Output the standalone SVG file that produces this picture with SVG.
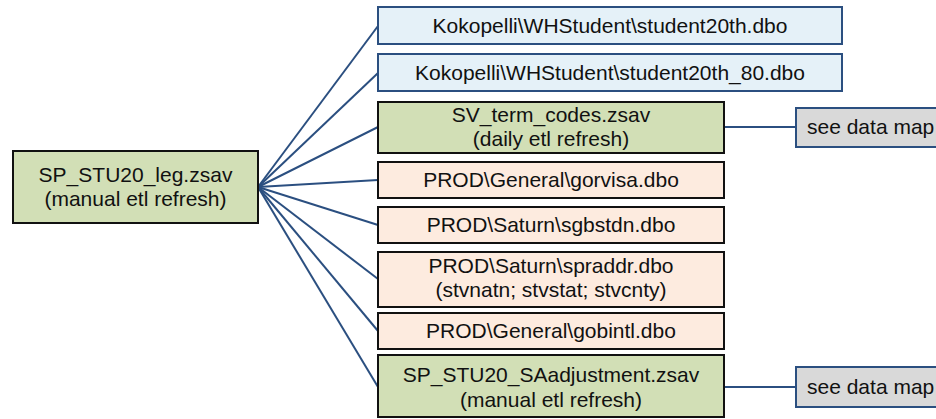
<svg xmlns="http://www.w3.org/2000/svg" width="936" height="419" viewBox="0 0 936 419">
<style>
text{font-family:"Liberation Sans",Arial,sans-serif;font-size:21px;fill:#111;text-anchor:middle}
.blue{fill:#e5f1f8;stroke:#2b4f80;stroke-width:2}
.green{fill:#d2dfb6;stroke:#111;stroke-width:2}
.peach{fill:#fdebdf;stroke:#111;stroke-width:2}
.gray{fill:#d9d9d9;stroke:#2b4f80;stroke-width:2}
.conn line{stroke:#2b4f80;stroke-width:2;fill:none}
</style>
<rect width="936" height="419" fill="#fff"/>
<g class="conn" id="connectors">
<line x1="258" y1="187" x2="378" y2="26"/>
<line x1="258" y1="187" x2="378" y2="73"/>
<line x1="258" y1="187" x2="378" y2="127"/>
<line x1="258" y1="187" x2="378" y2="180"/>
<line x1="258" y1="187" x2="378" y2="225"/>
<line x1="258" y1="187" x2="378" y2="279"/>
<line x1="258" y1="187" x2="378" y2="331"/>
<line x1="258" y1="187" x2="378" y2="387"/>
<line x1="724" y1="127" x2="796" y2="127"/>
<line x1="724" y1="387" x2="796" y2="387"/>
</g>
<g id="n-leg">
<rect class="green" x="13" y="151" width="245" height="72"/>
<text x="135.5" y="182">SP_STU20_leg.zsav</text>
<text x="135.5" y="206">(manual etl refresh)</text>
</g>
<g id="n-student20th">
<rect class="blue" x="378" y="7" width="464" height="37"/>
<text x="610" y="33">Kokopelli\WHStudent\student20th.dbo</text>
</g>
<g id="n-student20th80">
<rect class="blue" x="378" y="54" width="464" height="37"/>
<text x="610" y="80">Kokopelli\WHStudent\student20th_80.dbo</text>
</g>
<g id="n-termcodes">
<rect class="green" x="378" y="102" width="346" height="51"/>
<text x="551" y="122">SV_term_codes.zsav</text>
<text x="551" y="146">(daily etl refresh)</text>
</g>
<g id="n-gorvisa">
<rect class="peach" x="378" y="162" width="346" height="36"/>
<text x="551" y="187">PROD\General\gorvisa.dbo</text>
</g>
<g id="n-sgbstdn">
<rect class="peach" x="378" y="207" width="346" height="36"/>
<text x="551" y="232">PROD\Saturn\sgbstdn.dbo</text>
</g>
<g id="n-spraddr">
<rect class="peach" x="378" y="252" width="346" height="55"/>
<text x="551" y="273">PROD\Saturn\spraddr.dbo</text>
<text x="551" y="297">(stvnatn; stvstat; stvcnty)</text>
</g>
<g id="n-gobintl">
<rect class="peach" x="378" y="313" width="346" height="36"/>
<text x="551" y="338">PROD\General\gobintl.dbo</text>
</g>
<g id="n-saadj">
<rect class="green" x="378" y="355" width="346" height="62"/>
<text x="551" y="382">SP_STU20_SAadjustment.zsav</text>
<text x="551" y="407">(manual etl refresh)</text>
</g>
<g id="n-map1">
<rect class="gray" x="796" y="108" width="150" height="39"/>
<text x="807" y="134" style="text-anchor:start">see data map</text>
</g>
<g id="n-map2">
<rect class="gray" x="796" y="367" width="150" height="40"/>
<text x="807" y="394" style="text-anchor:start">see data map</text>
</g>
</svg>
